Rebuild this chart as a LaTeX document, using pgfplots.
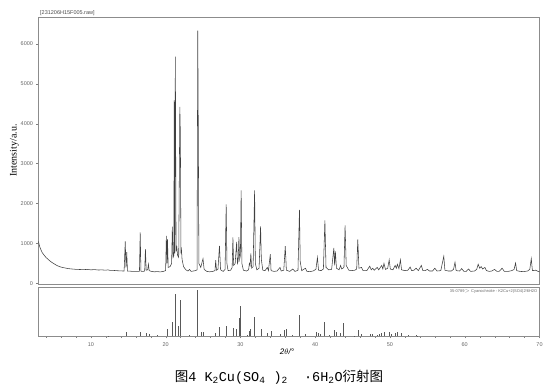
\documentclass[border=0pt]{standalone}
\usepackage{pgfplots}
\pgfplotsset{compat=1.18}
\usepackage{fontspec}
\setmainfont{Liberation Serif}
\setsansfont{Liberation Sans}
\setmonofont{Liberation Mono}
\newfontfamily\cjk{Noto Sans CJK SC}
\pgfplotsset{
  /pgf/number format/assume math mode=true,
  /pgf/number format/1000 sep={},
}
\begin{document}
\begin{tikzpicture}
\path[use as bounding box] (0pt,0pt) rectangle (549pt,387pt);
% main pattern
\begin{axis}[
  at={(38.5pt,103pt)}, anchor=south west,
  scale only axis, width=501pt, height=267pt,
  xmin=3, xmax=70, ymin=-15, ymax=6670,
  axis line style={black!45},
  xtick=\empty,
  ytick={0,1000,2000,3000,4000,5000,6000},
  ytick pos=left, tick align=outside,
  major tick length=2pt,
  tick style={black!50},
  tick label style={font=\sffamily\fontsize{5.5}{6.5}\selectfont, text=black!60},
  ylabel={Intensity/a.u.},
  ylabel style={font=\rmfamily\fontsize{7.5}{9}\selectfont},
  every axis y label/.style={at={(axis description cs:-0.048,0.5)}, rotate=90, anchor=center},
  clip=true,
]
\addplot[black!75, line width=0.55pt] table {
3.0 1050
3.1 960
3.2 900
3.35 830
3.5 770
3.7 720
4.0 650
4.3 600
4.6 550
5.0 500
5.4 455
5.8 420
6.2 400
6.6 385
7.0 370
7.5 360
8.0 352
8.5 348
9.0 345
9.5 350
10.0 340
10.5 345
11.0 335
11.5 338
12.0 330
12.3 340
12.5 328
13.0 325
13.5 318
14.0 312
14.45 310
14.6 1050
14.7 400
14.8 780
14.9 310
15.3 305
15.7 300
16.1 302
16.5 300
16.6 1280
16.7 305
17.0 300
17.2 310
17.3 860
17.4 330
17.6 340
17.7 480
17.8 320
18.1 300
18.5 290
18.9 295
19.3 288
19.7 300
20.0 320
20.1 1190
20.18 500
20.25 1100
20.35 400
20.6 420
20.8 500
20.9 1420
21.0 650
21.1 700
21.15 4580
21.22 750
21.3 5680
21.4 800
21.5 900
21.6 700
21.75 650
21.9 4420
21.97 3780
22.05 750
22.1 900
22.2 600
22.4 420
22.7 340
23.0 310
23.2 350
23.4 300
23.7 310
24.0 320
24.2 340
24.3 6330
24.38 3520
24.45 500
24.7 400
25.0 620
25.15 350
25.5 300
25.9 290
26.3 300
26.6 320
26.7 580
26.8 330
27.0 350
27.2 940
27.35 340
27.7 300
27.95 350
28.1 1980
28.2 500
28.35 320
28.7 330
28.9 400
29.0 1150
29.1 450
29.3 500
29.5 1040
29.6 500
29.7 550
29.8 1160
29.9 600
30.0 700
30.1 2330
30.2 500
30.4 330
30.8 310
31.1 340
31.2 500
31.3 450
31.4 750
31.5 380
31.7 420
31.9 2330
32.0 500
32.2 340
32.5 380
32.7 1430
32.8 600
33.0 330
33.3 320
33.6 400
33.75 320
34.0 730
34.1 320
34.5 300
34.9 310
35.3 400
35.45 310
35.8 330
36.0 930
36.15 330
36.6 300
37.0 360
37.3 300
37.7 330
37.9 1840
38.0 550
38.2 320
38.7 380
38.9 300
39.3 295
39.7 310
40.1 350
40.3 650
40.45 330
40.8 320
41.1 360
41.3 1580
41.45 400
41.8 340
42.2 350
42.5 890
42.6 450
42.7 800
42.85 380
43.2 340
43.4 450
43.55 360
43.85 400
44.0 1450
44.15 450
44.5 330
44.9 320
45.3 330
45.55 360
45.7 1100
45.85 380
46.2 400
46.4 320
46.9 320
47.3 430
47.5 340
47.7 380
47.9 330
48.3 400
48.5 340
48.9 450
49.05 360
49.2 500
49.4 350
49.7 380
49.9 590
50.05 360
50.4 340
50.7 450
50.85 380
51.0 480
51.2 370
51.4 590
51.55 340
52.0 320
52.4 330
52.7 410
52.9 320
53.2 330
53.5 380
53.8 320
54.2 450
54.4 320
54.7 320
55.0 350
55.3 310
55.7 310
56.0 380
56.3 310
56.8 320
57.2 680
57.35 330
57.8 310
58.2 310
58.5 350
58.7 530
58.85 320
59.3 310
59.6 370
59.9 300
60.2 300
60.5 360
60.8 300
61.3 310
61.6 350
61.8 480
62.0 380
62.2 420
62.4 360
62.7 400
62.9 320
63.3 300
63.6 310
64.0 350
64.3 300
64.6 300
65.0 380
65.3 300
65.8 300
66.3 320
66.6 350
66.8 510
66.95 320
67.4 300
67.9 295
68.4 310
68.7 350
68.9 620
69.05 320
69.5 330
69.8 300
70.0 290
};
\end{axis}
\node[anchor=south west, inner sep=0.5pt, font=\sffamily\fontsize{5.5}{6.5}\selectfont, text=black!70]
  at (39.5pt,370.5pt) {[231206H15F005.raw]};
% reference sticks
\begin{axis}[
  at={(38.5pt,50.5pt)}, anchor=south west,
  scale only axis, width=501pt, height=49.5pt,
  xmin=3, xmax=70, ymin=0, ymax=105.5,
  axis line style={black!45},
  ytick=\empty,
  xtick={10,20,30,40,50,60,70},
  minor xtick={4,6,8,12,14,16,18,22,24,26,28,32,34,36,38,42,44,46,48,52,54,56,58,62,64,66,68},
  xtick pos=bottom, tick align=outside,
  major tick length=2pt, minor tick length=1.5pt,
  tick style={black!50},
  tick label style={font=\sffamily\fontsize{5.5}{6.5}\selectfont, text=black!60},
  xticklabel style={yshift=-1pt},
]
\addplot[ycomb, black!65, line width=0.5pt, mark=none] table {
12.35 2
14.7 10
14.8 5
16.64 10
17.35 7
17.8 5
18.85 3
20.27 16
20.93 30
21.3 91
21.68 22
21.96 78
23.2 3
24.26 100
24.83 9
25.07 9
26.7 7
27.18 20
28.12 22
29.1 19
29.5 16
29.8 39
29.96 65
30.9 4
31.2 11
31.37 15
31.84 42
32.78 17
33.63 7
34.06 12
35.3 5
35.9 13
36.07 16
37.0 3
37.86 45
38.67 5
40.17 10
40.4 7
40.64 5
41.2 30
41.9 3
42.6 13
42.85 9
43.37 7
43.8 28
45.2 2
45.82 13
46.14 5
47.33 5
47.65 5
48.27 4
48.6 5
48.9 7
49.2 9
49.9 9
50.2 6
50.67 7
51.0 9
51.46 7
52.5 3
53.5 3
53.7 2
};
\end{axis}
\node[anchor=north east, inner sep=1pt, font=\sffamily\fontsize{4}{5}\selectfont, text=black!60]
  at (538.5pt,99pt) {35-0789$>$ Cyanochroite - K2Cu+2(SO4)2!6H2O};
\node[font=\sffamily\itshape\fontsize{8}{9}\selectfont] at (287pt,35pt) {2$\theta$/°};
\node[font=\ttfamily\fontsize{13.5}{15}\selectfont, inner sep=0pt] at (279pt,10pt) {{\cjk 图}4 K\textsubscript{2}Cu(SO\textsubscript{4} )\textsubscript{2}\ \ ·6H\textsubscript{2}O{\cjk 衍射图}};
\end{tikzpicture}
\end{document}
